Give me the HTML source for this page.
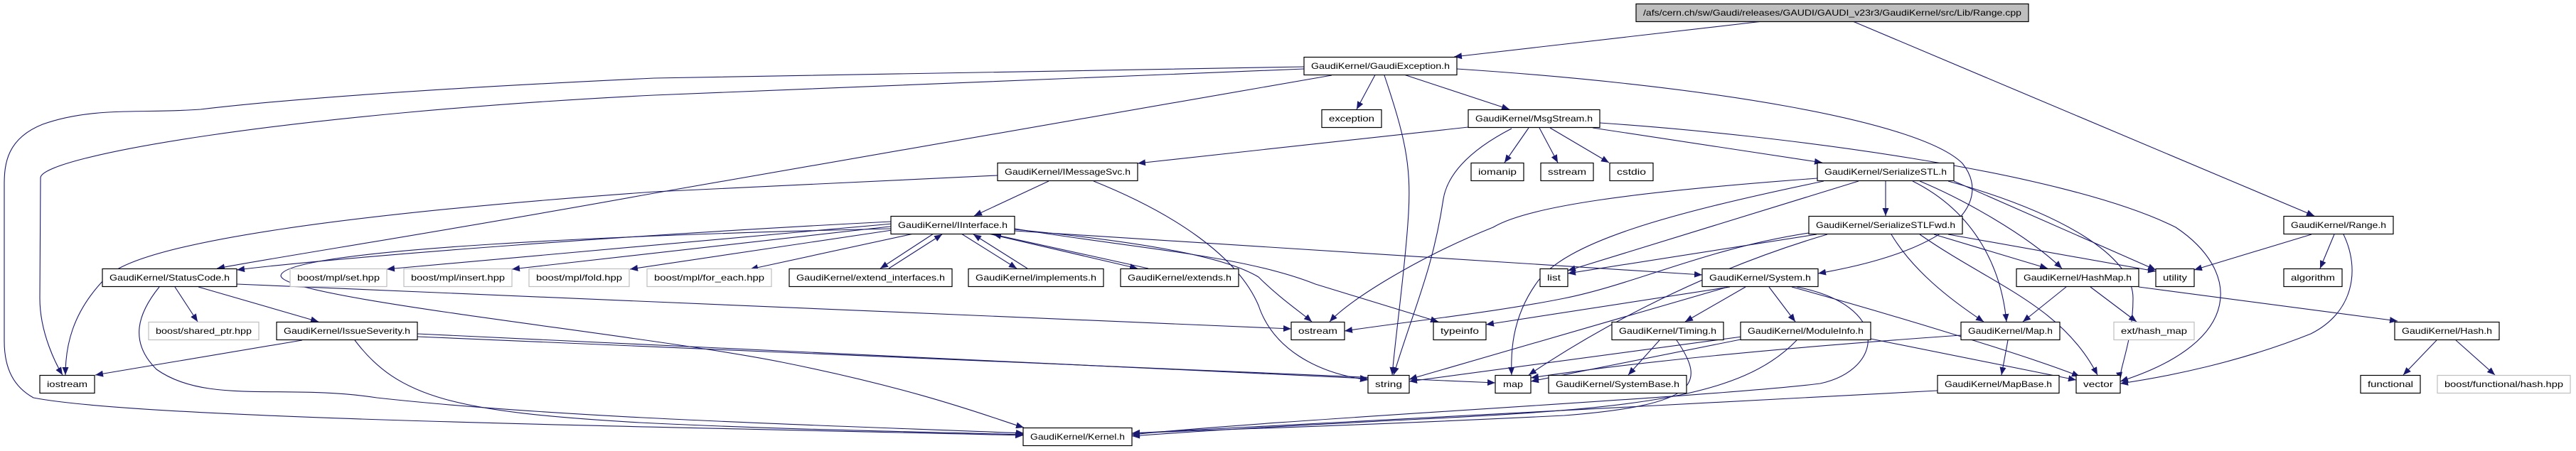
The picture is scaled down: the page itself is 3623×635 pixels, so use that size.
<!DOCTYPE html>
<html><head><meta charset="utf-8"><style>
html,body{margin:0;padding:0;background:#fff;}
svg{display:block;}
text{font-family:"Liberation Sans",sans-serif;font-size:12px;fill:#000;}
.e{fill:none;stroke:#191970;stroke-width:1.1;marker-end:url(#a);}
.n{fill:#fff;stroke:#000;stroke-width:1.2;}
.g{fill:#fff;stroke:#bfbfbf;stroke-width:1.2;}
</style></head><body>
<svg width="3623" height="635" viewBox="0 0 3623 635" xmlns="http://www.w3.org/2000/svg">
<defs><marker id="a" markerUnits="userSpaceOnUse" markerWidth="12" markerHeight="10" refX="11" refY="4.5" orient="auto"><path d="M0,0 L11,4.5 L0,9 z" fill="#191970"/></marker></defs>
<g>
<path class="e" d="M2475,30.5 L2045,80"/>
<path class="e" d="M2607,30.5 L3255,304"/>
<path class="e" d="M1934,105.5 L1908,154"/>
<path class="e" d="M1976,105.5 L2123,154"/>
<path class="e" d="M1947,106 C1975,190 1985,230 1981,300 S1962,480 1958,528"/>
<path class="e" d="M2049,97 C2400,120 2700,170 2760,230 C2800,280 2760,350 2557,385"/>
<path class="e" d="M1873,106 L920,272 C600,330 400,360 305,378"/>
<path class="e" d="M1834,97 L920,134 C400,160 60,220 57,250 L56,420 C56,470 80,515 88,528"/>
<path class="e" d="M1834,94 L920,110 C600,125 400,140 282,154 C200,160 130,150 60,175 C10,195 6,230 6,260 L6,480 C6,520 20,545 47,560 C200,590 900,600 1439,613"/>
<path class="e" d="M2065,179 L1600,230"/>
<path class="e" d="M2126,181 C2060,215 2035,250 2030,280 C2015,380 1990,430 1960,528"/>
<path class="e" d="M2150,180 L2116,229"/>
<path class="e" d="M2165,180 L2191,229"/>
<path class="e" d="M2180,180 L2263,229"/>
<path class="e" d="M2240,180 L2563,229"/>
<path class="e" d="M2250,173 C2500,190 2900,240 3060,320 C3150,380 3160,480 2982,537"/>
<path class="e" d="M1475,255 L1370,304"/>
<path class="e" d="M1403,247 L920,270 C500,300 200,340 150,390 C100,440 92,490 92,528"/>
<path class="e" d="M1538,255 C1650,300 1740,360 1770,430 C1790,490 1850,525 1924,535"/>
<path class="e" d="M1253,312 C900,330 500,360 333,380"/>
<path class="e" d="M1255,315 L544,379"/>
<path class="e" d="M1260,318 L720,379"/>
<path class="e" d="M1268,322 L886,379"/>
<path class="e" d="M1285,329 L1055,379"/>
<path class="e" d="M1313,329 L1238,378"/>
<path class="e" d="M1250,378 L1325,330"/>
<path class="e" d="M1352,329 L1430,378"/>
<path class="e" d="M1445,378 L1369,330"/>
<path class="e" d="M1390,329 L1600,378"/>
<path class="e" d="M1615,378 L1397,330"/>
<path class="e" d="M1253,322 C900,330 400,350 395,388 C395,420 900,470 1100,510 C1300,550 1400,590 1440,602"/>
<path class="e" d="M1427,323 C1600,340 1720,360 1770,390 C1800,420 1830,440 1845,453"/>
<path class="e" d="M1427,322 C1600,350 1750,360 1850,400 L2023,453"/>
<path class="e" d="M1427,325 L2394,387"/>
<path class="e" d="M246,404 L278,453"/>
<path class="e" d="M279,404 L448,453"/>
<path class="e" d="M333,400 L1816,463"/>
<path class="e" d="M224,404 C195,440 180,480 220,520 C290,570 400,540 530,560 C800,590 1200,600 1440,610"/>
<path class="e" d="M425,479 L134,528"/>
<path class="e" d="M587,470 L1924,533"/>
<path class="e" d="M587,474 L2103,539"/>
<path class="e" d="M499,479 C560,560 640,580 900,595 C1100,605 1300,608 1440,612"/>
<path class="e" d="M2433,404 L2090,457"/>
<path class="e" d="M2430,404 L1982,534"/>
<path class="e" d="M2455,404 L2370,453"/>
<path class="e" d="M2488,404 L2525,453"/>
<path class="e" d="M2520,404 C2650,440 2850,500 2925,530"/>
<path class="e" d="M2527,404 C2660,430 2650,520 2560,540 C2400,560 1800,590 1592,612"/>
<path class="e" d="M2334,479 L2290,528"/>
<path class="e" d="M2358,479 C2400,540 2390,570 2200,585 C1900,600 1700,605 1592,610"/>
<path class="e" d="M2450,474 L1982,537"/>
<path class="e" d="M2448,478 L2153,537"/>
<path class="e" d="M2527,479 C2450,560 2300,575 2000,590 C1800,600 1700,606 1592,614"/>
<path class="e" d="M2631,477 L2920,535"/>
<path class="e" d="M2556,251 C2300,270 2150,290 2100,320 C2000,360 1900,420 1870,453"/>
<path class="e" d="M2565,255 C2350,300 2200,340 2160,400 C2125,450 2125,500 2126,528"/>
<path class="e" d="M2614,255 L2205,381"/>
<path class="e" d="M2652,255 L2652,304"/>
<path class="e" d="M2700,255 C2760,280 2850,330 2900,378"/>
<path class="e" d="M2748,255 L3032,380"/>
<path class="e" d="M2740,255 C2900,300 3000,360 3000,420 C3000,480 2980,520 2982,535"/>
<path class="e" d="M2690,255 C2780,300 2815,380 2822,453"/>
<path class="e" d="M2555,330 L2205,385"/>
<path class="e" d="M2544,328 C2400,350 2300,400 2200,420 C2100,440 2000,450 1891,466"/>
<path class="e" d="M2570,330 C2400,380 2250,460 2150,528"/>
<path class="e" d="M2740,330 L3032,382"/>
<path class="e" d="M2720,330 L2880,378"/>
<path class="e" d="M2660,330 C2690,380 2740,420 2790,453"/>
<path class="e" d="M2700,330 C2800,400 2900,430 2950,528"/>
<path class="e" d="M2906,404 L2845,453"/>
<path class="e" d="M2940,404 L3005,453"/>
<path class="e" d="M3008,404 L3372,452"/>
<path class="e" d="M2824,479 L2815,528"/>
<path class="e" d="M2758,472 C2500,490 2300,510 2153,532"/>
<path class="e" d="M2725,550 L1592,610"/>
<path class="e" d="M3251,330 L3086,380"/>
<path class="e" d="M3283,330 L3263,378"/>
<path class="e" d="M3296,330 C3320,380 3310,440 3250,470 C3150,510 3050,530 2982,540"/>
<path class="e" d="M3427,479 L3380,528"/>
<path class="e" d="M3454,479 L3509,528"/>
</g>
<g>
<rect x="2301" y="5.5" width="552" height="25" fill="#bfbfbf" stroke="#000" stroke-width="1.2"/><text x="2577" y="22" text-anchor="middle" textLength="532" lengthAdjust="spacingAndGlyphs">/afs/cern.ch/sw/Gaudi/releases/GAUDI/GAUDI_v23r3/GaudiKernel/src/Lib/Range.cpp</text>
<rect class="n" x="1834" y="80.5" width="215" height="25"/><text x="1941.5" y="97" text-anchor="middle" textLength="195" lengthAdjust="spacingAndGlyphs">GaudiKernel/GaudiException.h</text>
<rect class="n" x="1859" y="154.5" width="84" height="25"/><text x="1901" y="171" text-anchor="middle" textLength="64" lengthAdjust="spacingAndGlyphs">exception</text>
<rect class="n" x="2065" y="154.5" width="185" height="25"/><text x="2157.5" y="171" text-anchor="middle" textLength="165" lengthAdjust="spacingAndGlyphs">GaudiKernel/MsgStream.h</text>
<rect class="n" x="1403" y="229.5" width="197" height="25"/><text x="1501.5" y="246" text-anchor="middle" textLength="177" lengthAdjust="spacingAndGlyphs">GaudiKernel/IMessageSvc.h</text>
<rect class="n" x="2069" y="229.5" width="74" height="25"/><text x="2106" y="246" text-anchor="middle" textLength="54" lengthAdjust="spacingAndGlyphs">iomanip</text>
<rect class="n" x="2167" y="229.5" width="74" height="25"/><text x="2204" y="246" text-anchor="middle" textLength="54" lengthAdjust="spacingAndGlyphs">sstream</text>
<rect class="n" x="2264" y="229.5" width="61" height="25"/><text x="2294.5" y="246" text-anchor="middle" textLength="41" lengthAdjust="spacingAndGlyphs">cstdio</text>
<rect class="n" x="2556" y="229.5" width="192" height="25"/><text x="2652" y="246" text-anchor="middle" textLength="172" lengthAdjust="spacingAndGlyphs">GaudiKernel/SerializeSTL.h</text>
<rect class="n" x="1253" y="304.5" width="174" height="25"/><text x="1340" y="321" text-anchor="middle" textLength="154" lengthAdjust="spacingAndGlyphs">GaudiKernel/IInterface.h</text>
<rect class="n" x="2544" y="304.5" width="216" height="25"/><text x="2652" y="321" text-anchor="middle" textLength="196" lengthAdjust="spacingAndGlyphs">GaudiKernel/SerializeSTLFwd.h</text>
<rect class="n" x="3212" y="304.5" width="154" height="25"/><text x="3289" y="321" text-anchor="middle" textLength="134" lengthAdjust="spacingAndGlyphs">GaudiKernel/Range.h</text>
<rect class="n" x="144" y="378.5" width="189" height="25"/><text x="238.5" y="395" text-anchor="middle" textLength="169" lengthAdjust="spacingAndGlyphs">GaudiKernel/StatusCode.h</text>
<rect class="g" x="408" y="378.5" width="136" height="25"/><text x="476" y="395" text-anchor="middle" textLength="116" lengthAdjust="spacingAndGlyphs">boost/mpl/set.hpp</text>
<rect class="g" x="568" y="378.5" width="152" height="25"/><text x="644" y="395" text-anchor="middle" textLength="132" lengthAdjust="spacingAndGlyphs">boost/mpl/insert.hpp</text>
<rect class="g" x="744" y="378.5" width="141" height="25"/><text x="814.5" y="395" text-anchor="middle" textLength="121" lengthAdjust="spacingAndGlyphs">boost/mpl/fold.hpp</text>
<rect class="g" x="910" y="378.5" width="175" height="25"/><text x="997.5" y="395" text-anchor="middle" textLength="155" lengthAdjust="spacingAndGlyphs">boost/mpl/for_each.hpp</text>
<rect class="n" x="1110" y="378.5" width="229" height="25"/><text x="1224.5" y="395" text-anchor="middle" textLength="209" lengthAdjust="spacingAndGlyphs">GaudiKernel/extend_interfaces.h</text>
<rect class="n" x="1362" y="378.5" width="190" height="25"/><text x="1457" y="395" text-anchor="middle" textLength="170" lengthAdjust="spacingAndGlyphs">GaudiKernel/implements.h</text>
<rect class="n" x="1576" y="378.5" width="166" height="25"/><text x="1659" y="395" text-anchor="middle" textLength="146" lengthAdjust="spacingAndGlyphs">GaudiKernel/extends.h</text>
<rect class="n" x="2166" y="378.5" width="39" height="25"/><text x="2185.5" y="395" text-anchor="middle" textLength="19" lengthAdjust="spacingAndGlyphs">list</text>
<rect class="n" x="2394" y="378.5" width="163" height="25"/><text x="2475.5" y="395" text-anchor="middle" textLength="143" lengthAdjust="spacingAndGlyphs">GaudiKernel/System.h</text>
<rect class="n" x="2836" y="378.5" width="172" height="25"/><text x="2922" y="395" text-anchor="middle" textLength="152" lengthAdjust="spacingAndGlyphs">GaudiKernel/HashMap.h</text>
<rect class="n" x="3032" y="378.5" width="54" height="25"/><text x="3059" y="395" text-anchor="middle" textLength="34" lengthAdjust="spacingAndGlyphs">utility</text>
<rect class="n" x="3212" y="378.5" width="82" height="25"/><text x="3253" y="395" text-anchor="middle" textLength="62" lengthAdjust="spacingAndGlyphs">algorithm</text>
<rect class="g" x="209" y="453.5" width="155" height="25"/><text x="286.5" y="470" text-anchor="middle" textLength="135" lengthAdjust="spacingAndGlyphs">boost/shared_ptr.hpp</text>
<rect class="n" x="389" y="453.5" width="198" height="25"/><text x="488" y="470" text-anchor="middle" textLength="178" lengthAdjust="spacingAndGlyphs">GaudiKernel/IssueSeverity.h</text>
<rect class="n" x="1816" y="453.5" width="75" height="25"/><text x="1853.5" y="470" text-anchor="middle" textLength="55" lengthAdjust="spacingAndGlyphs">ostream</text>
<rect class="n" x="2016" y="453.5" width="74" height="25"/><text x="2053" y="470" text-anchor="middle" textLength="54" lengthAdjust="spacingAndGlyphs">typeinfo</text>
<rect class="n" x="2267" y="453.5" width="157" height="25"/><text x="2345.5" y="470" text-anchor="middle" textLength="137" lengthAdjust="spacingAndGlyphs">GaudiKernel/Timing.h</text>
<rect class="n" x="2448" y="453.5" width="183" height="25"/><text x="2539.5" y="470" text-anchor="middle" textLength="163" lengthAdjust="spacingAndGlyphs">GaudiKernel/ModuleInfo.h</text>
<rect class="n" x="2758" y="453.5" width="139" height="25"/><text x="2827.5" y="470" text-anchor="middle" textLength="119" lengthAdjust="spacingAndGlyphs">GaudiKernel/Map.h</text>
<rect class="g" x="2973" y="453.5" width="113" height="25"/><text x="3029.5" y="470" text-anchor="middle" textLength="93" lengthAdjust="spacingAndGlyphs">ext/hash_map</text>
<rect class="n" x="3368" y="453.5" width="147" height="25"/><text x="3441.5" y="470" text-anchor="middle" textLength="127" lengthAdjust="spacingAndGlyphs">GaudiKernel/Hash.h</text>
<rect class="n" x="56" y="528.5" width="77" height="25"/><text x="94.5" y="545" text-anchor="middle" textLength="57" lengthAdjust="spacingAndGlyphs">iostream</text>
<rect class="n" x="1924" y="528.5" width="58" height="25"/><text x="1953" y="545" text-anchor="middle" textLength="38" lengthAdjust="spacingAndGlyphs">string</text>
<rect class="n" x="2103" y="528.5" width="50" height="25"/><text x="2128" y="545" text-anchor="middle" textLength="28" lengthAdjust="spacingAndGlyphs">map</text>
<rect class="n" x="2178" y="528.5" width="194" height="25"/><text x="2275" y="545" text-anchor="middle" textLength="174" lengthAdjust="spacingAndGlyphs">GaudiKernel/SystemBase.h</text>
<rect class="n" x="2725" y="528.5" width="171" height="25"/><text x="2810.5" y="545" text-anchor="middle" textLength="151" lengthAdjust="spacingAndGlyphs">GaudiKernel/MapBase.h</text>
<rect class="n" x="2920" y="528.5" width="62" height="25"/><text x="2951" y="545" text-anchor="middle" textLength="42" lengthAdjust="spacingAndGlyphs">vector</text>
<rect class="n" x="3320" y="528.5" width="84" height="25"/><text x="3362" y="545" text-anchor="middle" textLength="64" lengthAdjust="spacingAndGlyphs">functional</text>
<rect class="g" x="3428" y="528.5" width="187" height="25"/><text x="3521.5" y="545" text-anchor="middle" textLength="167" lengthAdjust="spacingAndGlyphs">boost/functional/hash.hpp</text>
<rect class="n" x="1439" y="602.5" width="153" height="25"/><text x="1515.5" y="619" text-anchor="middle" textLength="133" lengthAdjust="spacingAndGlyphs">GaudiKernel/Kernel.h</text>
</g>
</svg>
</body></html>
